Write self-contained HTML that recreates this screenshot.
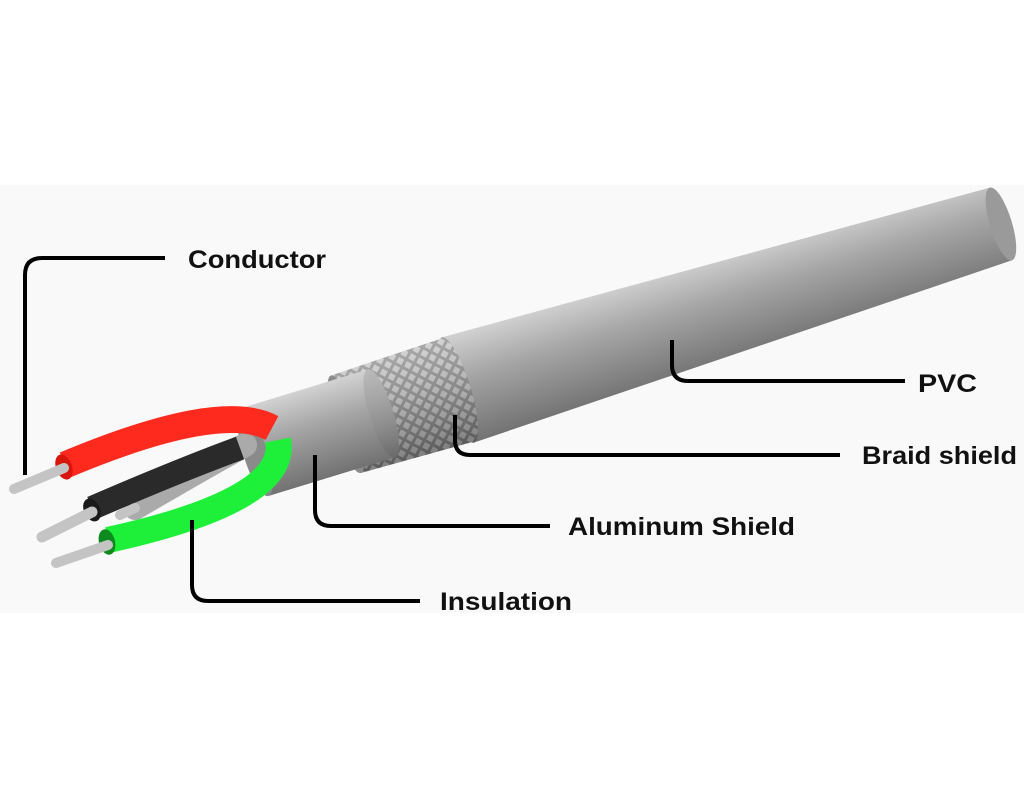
<!DOCTYPE html>
<html><head><meta charset="utf-8"><style>
html,body{margin:0;padding:0;background:#fff;}
svg{display:block}
</style></head><body>
<svg width="1024" height="800" viewBox="0 0 1024 800" xmlns="http://www.w3.org/2000/svg">
<defs>
<linearGradient id="cyl" x1="0" y1="0" x2="0" y2="1">
<stop offset="0" stop-color="#d2d2d2"/><stop offset="0.4" stop-color="#a6a6a6"/><stop offset="1" stop-color="#727272"/></linearGradient>
<pattern id="braid" width="9" height="9" patternUnits="userSpaceOnUse" patternTransform="rotate(45)">
<rect width="9" height="9" fill="#8a8a8a"/><rect x="1.5" y="1.5" width="6" height="6" fill="#c4c4c4"/></pattern>
<linearGradient id="shade" x1="0" y1="0" x2="0" y2="1">
<stop offset="0" stop-color="#fff" stop-opacity="0.25"/><stop offset="1" stop-color="#000" stop-opacity="0.35"/></linearGradient>
</defs>
<rect x="0" y="185" width="1024" height="428" fill="#f9f9f9"/>
<g transform="translate(255,452) rotate(-17)">
 <path d="M212,-55 L780,-38 L780,38 L212,55 Z" fill="url(#cyl)"/>
 <ellipse cx="780" cy="0" rx="11" ry="38" fill="#9a9a9a"/>
 <path d="M95,-51 L212,-54 L212,54 L95,51 Z" fill="url(#braid)"/>
 <path d="M95,-51 L212,-54 L212,54 L95,51 Z" fill="url(#shade)"/>
 <ellipse cx="212" cy="0" rx="13" ry="55" fill="url(#braid)"/>
 <ellipse cx="212" cy="0" rx="13" ry="55" fill="url(#shade)"/>
 <ellipse cx="95" cy="0" rx="11" ry="51" fill="#8c8c8c"/>
 <path d="M0,-46 L132,-46 L132,46 L0,46 Z" fill="url(#cyl)"/>
 <ellipse cx="132" cy="0" rx="12" ry="46" fill="#a3a3a3"/>
 <ellipse cx="132" cy="0" rx="12" ry="46" fill="url(#shade)"/>
 <ellipse cx="0" cy="0" rx="12" ry="46" fill="#8a8a8a"/>
</g>
<path d="M245,445 Q200,470 135,508" stroke="#aaa" stroke-width="24" fill="none" stroke-linecap="round"/>
<path d="M240,448 Q180,470 92,508" stroke="#2a2a2a" stroke-width="24" fill="none"/>
<ellipse cx="92" cy="510" rx="8" ry="12" fill="#1a1a1a" transform="rotate(-25 92 510)"/>
<path d="M92,512 L42,537" stroke="#c4c4c4" stroke-width="11" stroke-linecap="round"/>
<path d="M135,508 L120,515" stroke="#c4c4c4" stroke-width="10" stroke-linecap="round"/>
<path d="M272,428 Q220,400 65,465" stroke="#ff2a1e" stroke-width="27" fill="none" stroke-linecap="butt"/>
<ellipse cx="64" cy="467" rx="8" ry="13" fill="#d8160c" transform="rotate(-20 64 467)"/>
<path d="M64,468 L14,489" stroke="#c4c4c4" stroke-width="10" stroke-linecap="round"/>
<path d="M278,440 Q290,500 108,540" stroke="#1ef03a" stroke-width="26" fill="none"/>
<ellipse cx="107" cy="542" rx="8" ry="13" fill="#0f8a1e" transform="rotate(-15 107 542)"/>
<path d="M108,545 L56,563" stroke="#c4c4c4" stroke-width="10" stroke-linecap="round"/>
<g stroke="#000" stroke-width="4" fill="none">
<path d="M165,258 L42,258 Q25,258 25,275 L25,475"/>
<path d="M672,340 L672,365 Q672,381 688,381 L905,381"/>
<path d="M455,415 L455,440 Q455,455 470,455 L840,455"/>
<path d="M315,455 L315,510 Q315,526 331,526 L550,526"/>
<path d="M192,520 L192,585 Q192,601 208,601 L420,601"/>
</g>
<g font-family="Liberation Sans, sans-serif" font-size="25" font-weight="bold" fill="#111">
<text x="188" y="268" textLength="138" lengthAdjust="spacingAndGlyphs">Conductor</text>
<text x="918" y="392" textLength="59" lengthAdjust="spacingAndGlyphs">PVC</text>
<text x="862" y="464" textLength="155" lengthAdjust="spacingAndGlyphs">Braid shield</text>
<text x="568" y="535" textLength="227" lengthAdjust="spacingAndGlyphs">Aluminum Shield</text>
<text x="440" y="610" textLength="132" lengthAdjust="spacingAndGlyphs">Insulation</text>
</g>
</svg>
</body></html>
